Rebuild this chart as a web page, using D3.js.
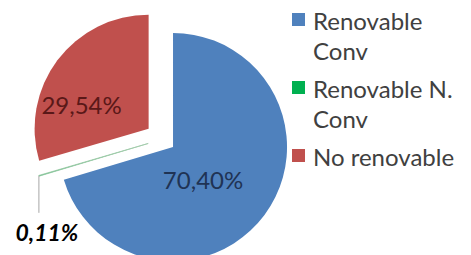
<!DOCTYPE html>
<html>
<head>
<meta charset="utf-8">
<script src="https://cdn.jsdelivr.net/npm/d3@7"></script>
<style>
  body { margin: 0; background: #fff; }
  svg { display: block; }
</style>
</head>
<body>
<div id="chart"></div>
<script>
// chart data
const categories = ["Renovable Conv", "Renovable N. Conv", "No renovable"];
const values = [70.40, 0.11, 29.54];
const valueLabels = ["70,40%", "0,11%", "29,54%"];
const legendLines = [["Renovable", "Conv"], ["Renovable N.", "Conv"], ["No renovable"]];
const colors = ["#4f81bd", "#00b050", "#c0504d"];
const labelColors = ["#1f3354", "#000000", "#5a1818"];

const width = 471, height = 255;
const cx = 162.6, cy = 139.2, radius = 114;
const explode = [13, 15, 17.5];

const svg = d3.select("#chart").append("svg")
    .attr("width", width)
    .attr("height", height);

const pie = d3.pie().sort(null).value(d => d)(values);
const arc = d3.arc().innerRadius(0).outerRadius(radius);

// direction helper: angle measured clockwise from 12 o'clock
const dir = a => [Math.sin(a), -Math.cos(a)];

const slices = svg.append("g").attr("transform", `translate(${cx},${cy})`);

pie.forEach((d, i) => {
    const mid = (d.startAngle + d.endAngle) / 2;
    const [ux, uy] = dir(mid);
    d.ox = ux * explode[i];
    d.oy = uy * explode[i];
    slices.append("path")
        .attr("d", arc(d))
        .attr("transform", `translate(${d.ox},${d.oy})`)
        .attr("fill", colors[i])
        .attr("stroke", i === 1 ? "#9fc9a8" : "none")
        .attr("stroke-width", i === 1 ? 0.8 : 0);
});

// labels inside big slices (angle, distance from slice corner)
const labelPos = [[137.7, 44.6], null, [290.2, 71.4]];
pie.forEach((d, i) => {
    if (!labelPos[i]) return;
    const a = labelPos[i][0] * Math.PI / 180;
    const [ux, uy] = dir(a);
    slices.append("text")
        .attr("x", d.ox + ux * labelPos[i][1])
        .attr("y", d.oy + uy * labelPos[i][1])
        .attr("text-anchor", "middle")
        .attr("dominant-baseline", "central")
        .attr("font-family", "Lato, 'Open Sans', sans-serif")
        .attr("font-size", 24)
        .attr("fill", labelColors[i])
        .text(valueLabels[i]);
});

// small slice: leader line and bold italic label
{
    const d = pie[1];
    const mid = (d.startAngle + d.endAngle) / 2;
    const [ux, uy] = dir(mid);
    const ex = d.ox + ux * radius, ey = d.oy + uy * radius;
    slices.append("path")
        .attr("d", `M${ex},${ey}V${ey + 37}`)
        .attr("stroke", "#a6a6a6")
        .attr("stroke-width", 1)
        .attr("fill", "none");
    slices.append("text")
        .attr("x", ex + 8)
        .attr("y", ey + 56)
        .attr("text-anchor", "middle")
        .attr("dominant-baseline", "central")
        .attr("font-family", "Lato, 'Open Sans', sans-serif")
        .attr("font-size", 23)
        .attr("font-weight", "bold")
        .attr("font-style", "italic")
        .attr("fill", labelColors[1])
        .text(valueLabels[1]);
}

// legend
const legendX = 292, legendTop = 20, lineH = 30, itemGap = 8;
const legend = svg.append("g");
let y = legendTop;
legendLines.forEach((lines, i) => {
    legend.append("rect")
        .attr("x", legendX)
        .attr("y", y - 7)
        .attr("width", 13)
        .attr("height", 13)
        .attr("fill", colors[i]);
    lines.forEach((t, j) => {
        legend.append("text")
            .attr("x", legendX + 21)
            .attr("y", y + j * lineH)
            .attr("dominant-baseline", "central")
            .attr("font-family", "Lato, 'Open Sans', sans-serif")
            .attr("font-size", 24)
            .attr("fill", "#404040")
            .text(t);
    });
    y += lines.length * lineH + itemGap;
});
</script>
</body>
</html>
